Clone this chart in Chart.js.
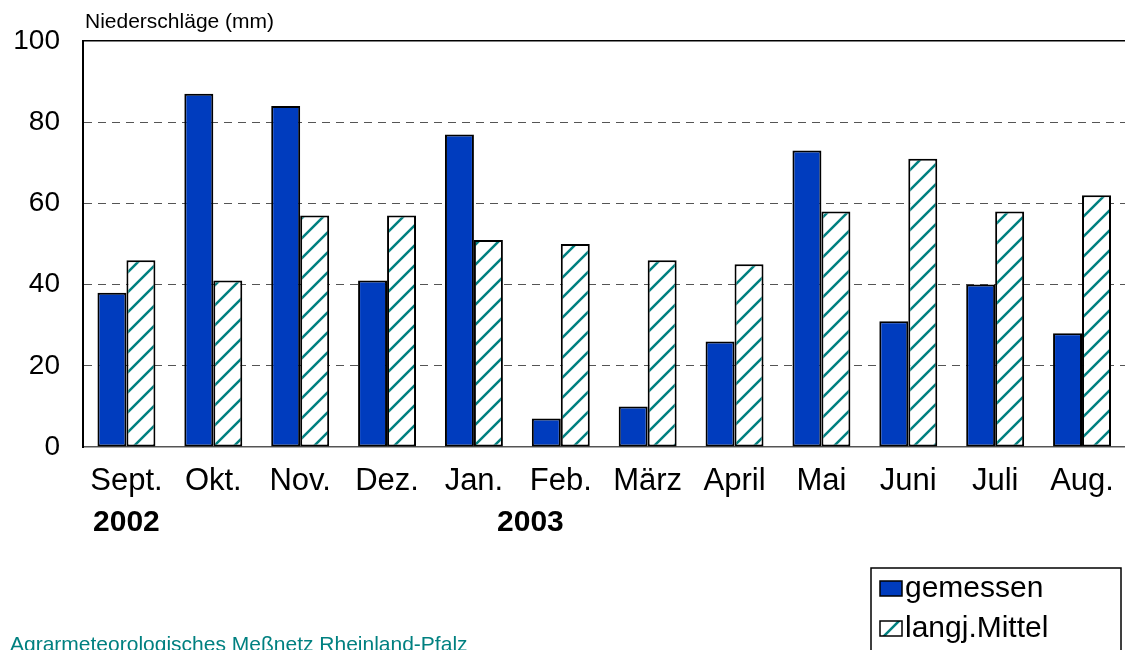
<!DOCTYPE html>
<html>
<head>
<meta charset="utf-8">
<script src="https://cdn.jsdelivr.net/npm/chart.js@4"></script>
<style>
  html, body { margin: 0; padding: 0; background: #fff; overflow: hidden; }
  #wrap { position: relative; width: 1125px; height: 650px; overflow: hidden; }
  canvas { position: absolute; left: 0; top: 0; }
</style>
</head>
<body>
<div id="wrap"><canvas id="myChart" width="1130" height="650"></canvas></div>
<script>
// Monatsniederschlag Sept. 2002 - Aug. 2003
const months = ['Sept.', 'Okt.', 'Nov.', 'Dez.', 'Jan.', 'Feb.', 'März', 'April', 'Mai', 'Juni', 'Juli', 'Aug.'];
const gemessen = [38, 87, 84, 41, 77, 7, 10, 26, 73, 31, 40, 28];
const langjMittel = [46, 41, 57, 57, 51, 50, 46, 45, 58, 71, 58, 62];
const yTicks = [0, 20, 40, 60, 80, 100];
const years = ['2002', '2003'];
const yearAt = [0, 4.65]; // category position under which the year sits

const FONT = "'Liberation Sans', Arial, sans-serif";
const BLUE = '#003CBE';
const TEAL = '#008080';

// diagonal hatch for the long-term mean
function makeHatch() {
    const c = document.createElement('canvas');
    c.width = 20; c.height = 20;
    const g = c.getContext('2d');
    g.fillStyle = '#fff';
    g.fillRect(0, 0, 20, 20);
    g.strokeStyle = TEAL;
    g.lineWidth = 2.5;
    g.beginPath();
    g.moveTo(0, 20); g.lineTo(20, 0);
    g.moveTo(-2, 2); g.lineTo(2, -2);
    g.moveTo(18, 22); g.lineTo(22, 18);
    g.stroke();
    return g.createPattern(c, 'repeat');
}
const hatch = makeHatch();

// title, year labels, legend box and footer
const extras = {
    id: 'extras',
    afterDraw(chart) {
        const ctx = chart.ctx;
        const x = chart.scales.x;
        ctx.save();
        ctx.fillStyle = '#000';
        ctx.textBaseline = 'alphabetic';

        ctx.font = '21px ' + FONT;
        ctx.textAlign = 'left';
        ctx.fillText('Niederschläge (mm)', 85, 28);

        ctx.font = 'bold 30px ' + FONT;
        ctx.textAlign = 'center';
        years.forEach((y, i) => ctx.fillText(y, x.getPixelForValue(yearAt[i]), 531));

        // legend
        ctx.lineWidth = 1.5;
        ctx.strokeStyle = '#000';
        ctx.strokeRect(871, 568, 250, 100);
        ctx.font = '30px ' + FONT;
        ctx.textAlign = 'left';
        chart.data.datasets.forEach((ds, i) => {
            const top = i === 0 ? 581 : 621;
            ctx.fillStyle = ds.backgroundColor;
            ctx.fillRect(880, top, 22, 15);
            ctx.strokeRect(880, top, 22, 15);
            ctx.fillStyle = '#000';
            ctx.fillText(ds.label, 905, top + 16);
        });

        ctx.font = '21px ' + FONT;
        ctx.fillStyle = TEAL;
        ctx.fillText('Agrarmeteorologisches Meßnetz Rheinland-Pfalz', 10, 651);
        ctx.restore();
    }
};

Chart.defaults.font.family = FONT;
Chart.defaults.color = '#000';

const config = {
    type: 'bar',
    data: {
        labels: months,
        datasets: [{
            label: 'gemessen',
            data: gemessen,
            backgroundColor: BLUE,
            borderColor: '#000',
            borderWidth: 2,
            borderSkipped: false
        }, {
            label: 'langj.Mittel',
            data: langjMittel,
            backgroundColor: hatch,
            borderColor: '#000',
            borderWidth: 2,
            borderSkipped: false
        }]
    },
    options: {
        responsive: false,
        animation: false,
        devicePixelRatio: 1,
        categoryPercentage: 0.667,
        barPercentage: 1.0,
        layout: { padding: { top: 41, right: 2, left: 0, bottom: 0 } },
        plugins: {
            legend: { display: false },
            tooltip: { enabled: false }
        },
        scales: {
            x: {
                grid: { display: false, drawTicks: false },
                border: { color: '#555', width: 1.5 },
                ticks: { font: { size: 31 }, padding: 16, maxRotation: 0, autoSkip: false },
                afterFit(scale) { scale.height = 203; }
            },
            y: {
                min: 0,
                max: 100,
                afterBuildTicks(scale) { scale.ticks = yTicks.map(v => ({ value: v })); },
                grid: {
                    drawTicks: false,
                    color: c => c.tick.value === 100 ? '#000' : (c.tick.value === 0 ? 'rgba(0,0,0,0)' : '#555'),
                    lineWidth: c => c.tick.value === 100 ? 1.5 : 1
                },
                border: {
                    color: '#000',
                    width: 2,
                    dash: c => (c.tick && c.tick.value === 100) ? [] : [8, 6]
                },
                ticks: { font: { size: 28 }, padding: 23 },
                afterFit(scale) { scale.width = 83; }
            }
        }
    },
    plugins: [extras]
};

var myChart = new Chart(document.getElementById('myChart'), config);
</script>
</body>
</html>
